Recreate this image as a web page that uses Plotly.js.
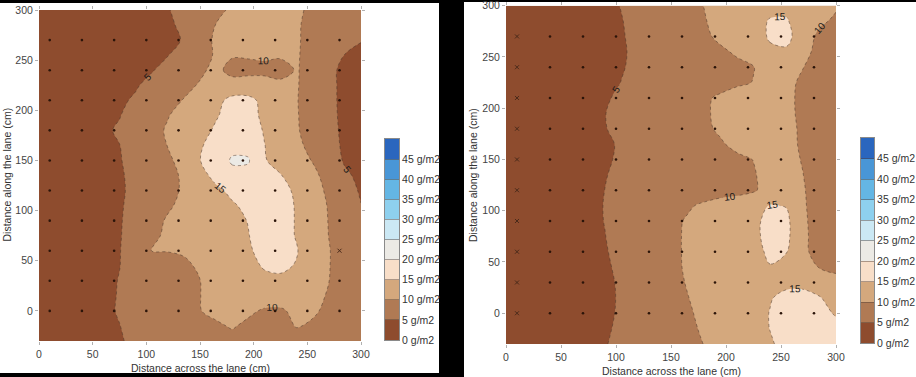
<!DOCTYPE html>
<html><head><meta charset="utf-8">
<script src="https://cdn.plot.ly/plotly-3.0.1.min.js"></script>
<style>
html,body{margin:0;padding:0;background:#000;width:916px;height:377px;overflow:hidden;}
.panel{position:absolute;background:#fff;}
#chart{position:absolute;left:0;top:0;width:916px;height:377px;}
</style></head><body>
<div class="panel" style="left:0;top:3px;width:439px;height:370px"></div>
<div class="panel" style="left:464px;top:2px;width:452px;height:375px"></div>
<div id="chart"></div>
<script>
// ---- grid coordinates (cm) ----
const xGrid = [0,15,30,45,60,75,90,105,120,135,150,165,180,195,210,225,240,255,270,285,300];
const yGridTopDown = [300,285,270,255,240,225,210,195,180,165,150,135,120,105,90,75,60,45,30,15,0,-15,-30];

// ---- left map: deposit (g/m2), rows from y=300 down to y=-30 ----
const leftZ = [
 [1.5,1.5,1.5,1.5,1.8,2.6,3.3,4.1,4.8,6.1,7.7,9.2,10.5,11.5,12.5,11.5,10.5,9.4,8.2,7.1,6.0],
 [1.5,1.5,1.5,1.5,1.5,2.2,3.0,3.7,4.5,5.6,8.0,10.1,11.0,12.0,12.1,11.2,10.3,9.2,8.0,6.7,5.5],
 [1.5,1.5,1.5,1.5,1.5,2.1,2.8,3.6,4.3,5.2,8.6,10.5,11.4,12.2,12.0,11.1,10.3,9.1,7.8,6.5,5.2],
 [1.5,1.5,1.5,1.5,1.9,2.7,3.4,4.2,4.9,6.7,8.6,10.4,10.4,10.4,10.5,10.5,10.3,8.8,6.8,4.9,4.0],
 [1.5,1.5,1.5,1.75,2.5,3.3,4.0,4.8,6.0,7.6,9.2,11.2,8.5,8.8,9.2,8.5,10.3,8.4,6.0,4.0,3.8],
 [1.5,1.5,1.7,2.4,3.2,3.9,4.7,5.9,7.4,8.8,10.4,11.3,12.0,12.0,11.3,11.0,10.3,8.1,5.7,4.3,4.0],
 [1.5,1.5,2.2,3.0,3.7,4.5,5.4,7.0,8.6,10.2,12.0,13.8,16.2,16.2,13.8,12.0,10.2,8.0,5.7,4.3,4.0],
 [1.5,1.85,2.6,3.35,4.1,4.85,6.4,8.1,9.8,11.4,13.0,14.7,16.3,16.2,14.3,12.3,10.3,8.0,5.8,4.3,4.0],
 [1.5,2.2,2.95,3.7,4.45,5.4,7.1,8.8,10.4,12.1,13.8,15.5,17.0,17.0,14.7,12.6,10.4,8.2,5.9,4.4,4.0],
 [1.5,1.95,2.7,3.45,4.2,4.95,6.6,8.4,10.1,12.4,14.6,16.5,18.8,18.6,15.1,13.0,11.0,8.7,6.3,4.4,4.0],
 [1.5,1.8,2.55,3.3,4.05,4.8,6.1,7.7,9.2,11.6,14.9,17.5,20.5,20.4,15.3,13.5,11.7,9.8,7.0,4.6,4.0],
 [1.5,1.65,2.4,3.15,3.9,4.65,5.8,7.3,8.8,10.6,13.5,16.3,18.8,18.6,17.0,15.2,13.1,11.0,8.5,5.6,4.2],
 [1.5,1.6,2.35,3.1,3.85,4.6,5.7,7.3,8.9,10.5,12.3,14.1,16.0,17.3,17.5,16.5,14.2,11.7,9.2,6.9,4.5],
 [1.5,1.65,2.4,3.15,3.9,4.65,6.0,7.7,9.5,10.9,12.1,13.3,14.5,16.0,16.8,16.5,14.7,12.2,9.7,7.4,5.1],
 [1.5,1.7,2.45,3.2,3.95,4.7,6.4,8.75,10.4,11.3,12.2,13.2,14.2,15.1,16.5,16.5,14.75,12.3,9.85,7.7,5.5],
 [1.5,1.75,2.5,3.25,4.0,4.75,6.7,9.3,10.6,11.5,12.3,13.2,14.0,14.9,16.3,16.3,14.8,12.4,9.95,8.0,6.0],
 [1.5,1.85,2.6,3.35,4.1,4.85,7.0,10.05,10.15,10.4,11.4,12.5,13.6,14.6,16.0,16.3,15.2,12.8,10.2,8.1,6.0],
 [1.5,1.95,2.7,3.45,4.2,4.95,6.1,7.2,8.3,9.35,10.5,11.7,12.9,14.1,15.3,15.6,14.8,12.5,10.15,8.3,6.5],
 [1.5,2.1,2.85,3.6,4.35,5.1,6.1,7.1,8.05,9.0,9.95,11.5,12.7,13.6,14.2,14.4,13.5,11.8,10.05,8.3,6.6],
 [1.5,2.15,2.9,3.65,4.4,5.15,6.15,7.1,8.1,9.05,9.95,11.0,11.8,12.2,11.8,11.5,11.8,11.0,9.7,8.2,6.7],
 [1.5,2.2,2.95,3.7,4.45,5.2,6.2,7.0,8.0,8.95,9.9,10.8,11.0,10.6,9.6,9.6,10.7,10.4,9.4,8.0,6.8],
 [1.5,1.95,2.7,3.45,4.2,4.95,5.8,6.6,7.4,8.2,8.9,9.5,10.3,9.3,8.6,8.8,10.2,9.6,8.8,7.8,6.5],
 [1.5,1.75,2.5,3.25,4.0,4.75,5.6,6.3,7.0,7.6,8.1,8.6,8.9,8.6,8.0,8.0,8.4,8.2,7.8,7.0,6.2]
];

// ---- right map: deposit (g/m2), rows from y=300 down to y=-30 ----
const rightZ = [
 [1.5,1.5,1.5,2.1,2.8,3.6,4.3,5.1,6.1,7.1,8.1,9.1,10.05,11.0,11.8,12.6,13.8,13.8,12.3,11.3,10.5],
 [1.5,1.5,1.5,1.9,2.65,3.4,4.15,4.9,5.85,6.8,7.8,8.75,9.75,11.2,12.3,13.5,15.3,15.4,12.5,10.8,9.3],
 [1.5,1.5,1.5,1.8,2.55,3.3,4.05,4.8,5.7,6.6,7.6,8.5,9.45,10.6,11.8,13.0,15.5,16.3,12.4,9.0,8.0],
 [1.5,1.5,1.5,1.75,2.5,3.25,4.0,4.75,5.5,6.3,7.1,7.9,8.7,9.5,10.4,12.0,14.2,14.3,11.3,8.7,7.5],
 [1.5,1.5,1.5,1.85,2.6,3.35,4.1,4.85,5.5,6.1,6.8,7.4,8.0,8.7,9.3,9.9,11.5,11.8,10.1,8.0,6.5],
 [1.5,1.5,1.5,2.0,2.75,3.5,4.3,5.05,5.65,6.3,6.9,7.55,8.2,8.8,9.45,10.1,11.3,11.0,9.3,7.5,6.0],
 [1.5,1.5,1.7,2.45,3.2,3.95,4.7,5.5,6.3,7.1,7.9,8.7,9.5,10.5,11.5,12.0,11.8,10.8,9.2,7.5,6.0],
 [1.5,1.5,1.95,2.7,3.45,4.2,4.95,5.75,6.5,7.3,8.1,8.85,9.6,10.6,11.6,12.2,12.0,11.0,9.1,7.5,6.0],
 [1.5,1.5,1.9,2.65,3.4,4.15,4.9,5.65,6.4,7.2,7.95,8.7,9.5,10.4,11.4,12.0,12.0,11.2,9.3,7.6,6.0],
 [1.5,1.5,1.6,2.35,3.1,3.85,4.6,5.3,6.05,6.8,7.5,8.25,9.0,9.7,10.7,11.6,11.8,11.2,9.4,7.7,6.0],
 [1.5,1.5,1.7,2.45,3.2,3.95,4.7,5.35,5.95,6.55,7.1,7.7,8.3,8.9,9.45,10.05,11.0,11.0,9.8,7.9,6.0],
 [1.5,1.5,1.9,2.7,3.4,4.2,4.9,5.5,6.0,6.6,7.1,7.65,8.2,8.75,9.3,9.8,10.9,11.2,10.05,8.0,6.2],
 [1.5,1.5,2.0,2.75,3.5,4.25,5.02,5.55,6.1,6.65,7.2,7.75,8.3,8.8,9.0,9.6,11.4,12.5,10.3,8.3,6.5],
 [1.5,1.5,2.1,2.8,3.6,4.3,5.1,6.0,6.9,7.8,8.7,9.6,10.5,11.2,11.8,12.8,15.3,14.8,10.4,8.5,6.5],
 [1.5,1.5,2.05,2.8,3.55,4.3,5.07,6.1,7.2,8.2,9.25,10.3,11.2,12.0,12.8,13.8,16.5,16.0,10.8,8.0,6.5],
 [1.5,1.5,1.95,2.7,3.45,4.2,4.95,6.0,7.1,8.2,9.3,10.4,11.2,12.0,12.8,13.8,16.6,16.0,11.0,8.0,6.5],
 [1.5,1.5,1.8,2.5,3.3,4.0,4.8,5.8,7.0,8.1,9.3,10.4,11.2,12.0,12.8,13.6,15.8,15.1,11.0,8.2,6.8],
 [1.5,1.5,1.6,2.4,3.1,3.9,4.6,5.6,6.8,8.0,9.2,10.4,11.3,12.0,12.8,13.5,14.8,14.2,12.0,9.8,9.5],
 [1.5,1.5,1.5,2.2,3.0,3.7,4.5,5.35,6.55,7.75,9.0,10.2,11.0,11.8,12.5,13.0,13.8,14.3,14.2,12.5,10.7],
 [1.5,1.5,1.5,2.2,2.95,3.7,4.45,5.3,6.45,7.6,8.75,9.9,11.0,12.0,12.8,13.6,14.8,15.8,16.0,15.3,13.0],
 [1.5,1.5,1.5,2.25,3.0,3.75,4.5,5.35,6.4,7.45,8.5,9.6,10.7,11.8,12.8,13.8,15.1,16.5,16.8,16.0,14.7],
 [1.5,1.5,1.65,2.4,3.15,3.9,4.65,5.5,6.45,7.4,8.4,9.35,10.4,11.6,12.7,13.9,15.05,16.5,17.0,16.8,16.0],
 [1.5,1.5,1.85,2.6,3.35,4.1,4.85,5.7,6.55,7.45,8.3,9.15,10.05,11.3,12.5,13.6,14.7,15.8,16.5,16.5,16.0]
];

// ---- sampling points ----
const sampleX = [10,40,70,100,130,160,190,220,250,280];
const sampleY = [0,30,60,90,120,150,180,210,240,270];
const crossLeftX = [280];
const crossLeftY = [60];
const crossRightX = [10,10,10,10,10,10,10,10,10,10];
const crossRightY = [0,30,60,90,120,150,180,210,240,270];

// ---- legend levels and colours ----
const levelTicks = [0,5,10,15,20,25,30,35,40,45];
const levelTop = 50;
const levelUnit = ' g/m2';
const bandColors = ['#8E4C2E','#B07A54','#D4A87D','#F8DEC8','#ECEAE5','#CBE8F4','#8ED0EE','#64B6E4','#4996D6','#2A66BE'];
const xTicks = [0,50,100,150,200,250,300];
const yTicks = [0,50,100,150,200,250,300];
const xTitle = 'Distance across the lane (cm)';
const yTitle = 'Distance along the lane (cm)';

const W = 916, H = 377;
const FONT = 'Liberation Sans, Arial, sans-serif';
const yGrid = yGridTopDown.slice().reverse();
const colorscale = bandColors.map((c,i)=>[i/(bandColors.length-1), c]);
const step = levelTicks[1]-levelTicks[0];
const bandMid = levelTicks.map(v=>v+step/2);

function contour(z, xa, ya){
  return {
    type:'contour', x:xGrid, y:yGrid, z:z.slice().reverse(),
    xaxis:xa, yaxis:ya,
    autocontour:false, showscale:false,
    contours:{start:levelTicks[1],end:levelTicks[levelTicks.length-1],size:step,coloring:'fill',
      showlabels:true, labelformat:'.0f',
      labelfont:{size:10,color:'#1a1a1a',family:FONT}},
    line:{color:'rgba(70,50,40,0.7)',width:0.7,dash:'dot',smoothing:1},
    colorscale:colorscale,
    hoverinfo:'skip'
  };
}
function legendBar(xa, ya){
  return {type:'heatmap', x:[0], y:bandMid, z:bandMid.map(v=>[v]), xaxis:xa, yaxis:ya,
    zmin:bandMid[0], zmax:bandMid[bandMid.length-1], colorscale:colorscale, showscale:false, hoverinfo:'skip'};
}
function dots(xa, ya, crossX, crossY){
  const dx=[], dy=[];
  sampleY.forEach(yv=>sampleX.forEach(xv=>{
    let isCross=false;
    crossX.forEach((cx,k)=>{ if(cx===xv && crossY[k]===yv) isCross=true; });
    if(!isCross){dx.push(xv);dy.push(yv);}
  }));
  return [
    {type:'scatter',mode:'markers',x:dx,y:dy,xaxis:xa,yaxis:ya,hoverinfo:'skip',
     marker:{size:2.6,color:'#2b1409'}},
    {type:'scatter',mode:'markers',x:crossX,y:crossY,xaxis:xa,yaxis:ya,hoverinfo:'skip',
     marker:{size:4,symbol:'x-thin',color:'#4a2a1a',line:{width:1,color:'#4a2a1a'}}}
  ];
}

const data = [
  contour(leftZ,'x','y'),
  contour(rightZ,'x2','y2'),
  ...dots('x','y',crossLeftX,crossLeftY),
  ...dots('x2','y2',crossRightX,crossRightY),
  legendBar('x3','y3'),
  legendBar('x4','y4')
];

function xax(dom, anchor){
  return {domain:dom, anchor:anchor, range:[0,300], tickvals:xTicks, ticks:'outside', ticklen:3,
    tickcolor:'#b0b0b0', mirror:'ticks', showline:false, showgrid:false, zeroline:false,
    ticklabeloverflow:'allow',
    tickfont:{size:10.5,color:'#444',family:FONT}, fixedrange:true};
}
function yax(dom, anchor){
  return {domain:dom, anchor:anchor, range:[-30,300], tickvals:yTicks, ticks:'outside', ticklen:3,
    tickcolor:'#b0b0b0', mirror:'ticks', showline:false, showgrid:false, zeroline:false,
    ticklabeloverflow:'allow',
    tickfont:{size:10.5,color:'#444',family:FONT}, fixedrange:true};
}
function cbx(dom, anchor){
  return {domain:dom, anchor:anchor, range:[-0.5,0.5], showticklabels:false, ticks:'',
    showline:true, linecolor:'#8a8a8a', linewidth:1, mirror:true, showgrid:false, zeroline:false, fixedrange:true};
}
function cby(dom, anchor, len){
  return {domain:dom, anchor:anchor, range:[levelTicks[0], levelTop], side:'right',
    tickvals:levelTicks, ticktext:levelTicks.map(v=>v+levelUnit),
    ticks:'inside', ticklen:len, tickwidth:1, tickcolor:'rgba(80,60,50,0.45)',
    showline:true, linecolor:'#8a8a8a', linewidth:1, mirror:true, showgrid:false, zeroline:false,
    ticklabeloverflow:'allow',
    tickfont:{size:10.5,color:'#333',family:FONT}, fixedrange:true};
}

function ann(text, xpx, ypx, rot){
  return {text:text, xref:'paper', yref:'paper', x:xpx/W, y:1-ypx/H, showarrow:false,
    xanchor:'center', yanchor:'middle', textangle:rot||0,
    font:{size:10.5,color:'#333',family:FONT}};
}

const layout = {
  width:W, height:H, margin:{l:0,r:0,t:0,b:0},
  paper_bgcolor:'rgba(0,0,0,0)', plot_bgcolor:'rgba(0,0,0,0)',
  showlegend:false,
  xaxis: xax([39/W, 361/W],'y'),
  yaxis: yax([(H-341)/H, (H-10)/H],'x'),
  xaxis2: xax([506/W, 836/W],'y2'),
  yaxis2: yax([(H-344)/H, (H-5.7)/H],'x2'),
  xaxis3: cbx([385/W, 399/W],'y3'),
  yaxis3: cby([(H-340)/H, (H-139)/H],'x3',14),
  xaxis4: cbx([861/W, 874/W],'y4'),
  yaxis4: cby([(H-343)/H, (H-138)/H],'x4',13),
  annotations:[
    ann(xTitle, 200.5, 367.5),
    ann(xTitle, 671, 371),
    ann(yTitle, 6.5, 175, -90),
    ann(yTitle, 473, 175, -90)
  ]
};

Plotly.newPlot('chart', data, layout, {staticPlot:true, displayModeBar:false});
</script></body></html>
